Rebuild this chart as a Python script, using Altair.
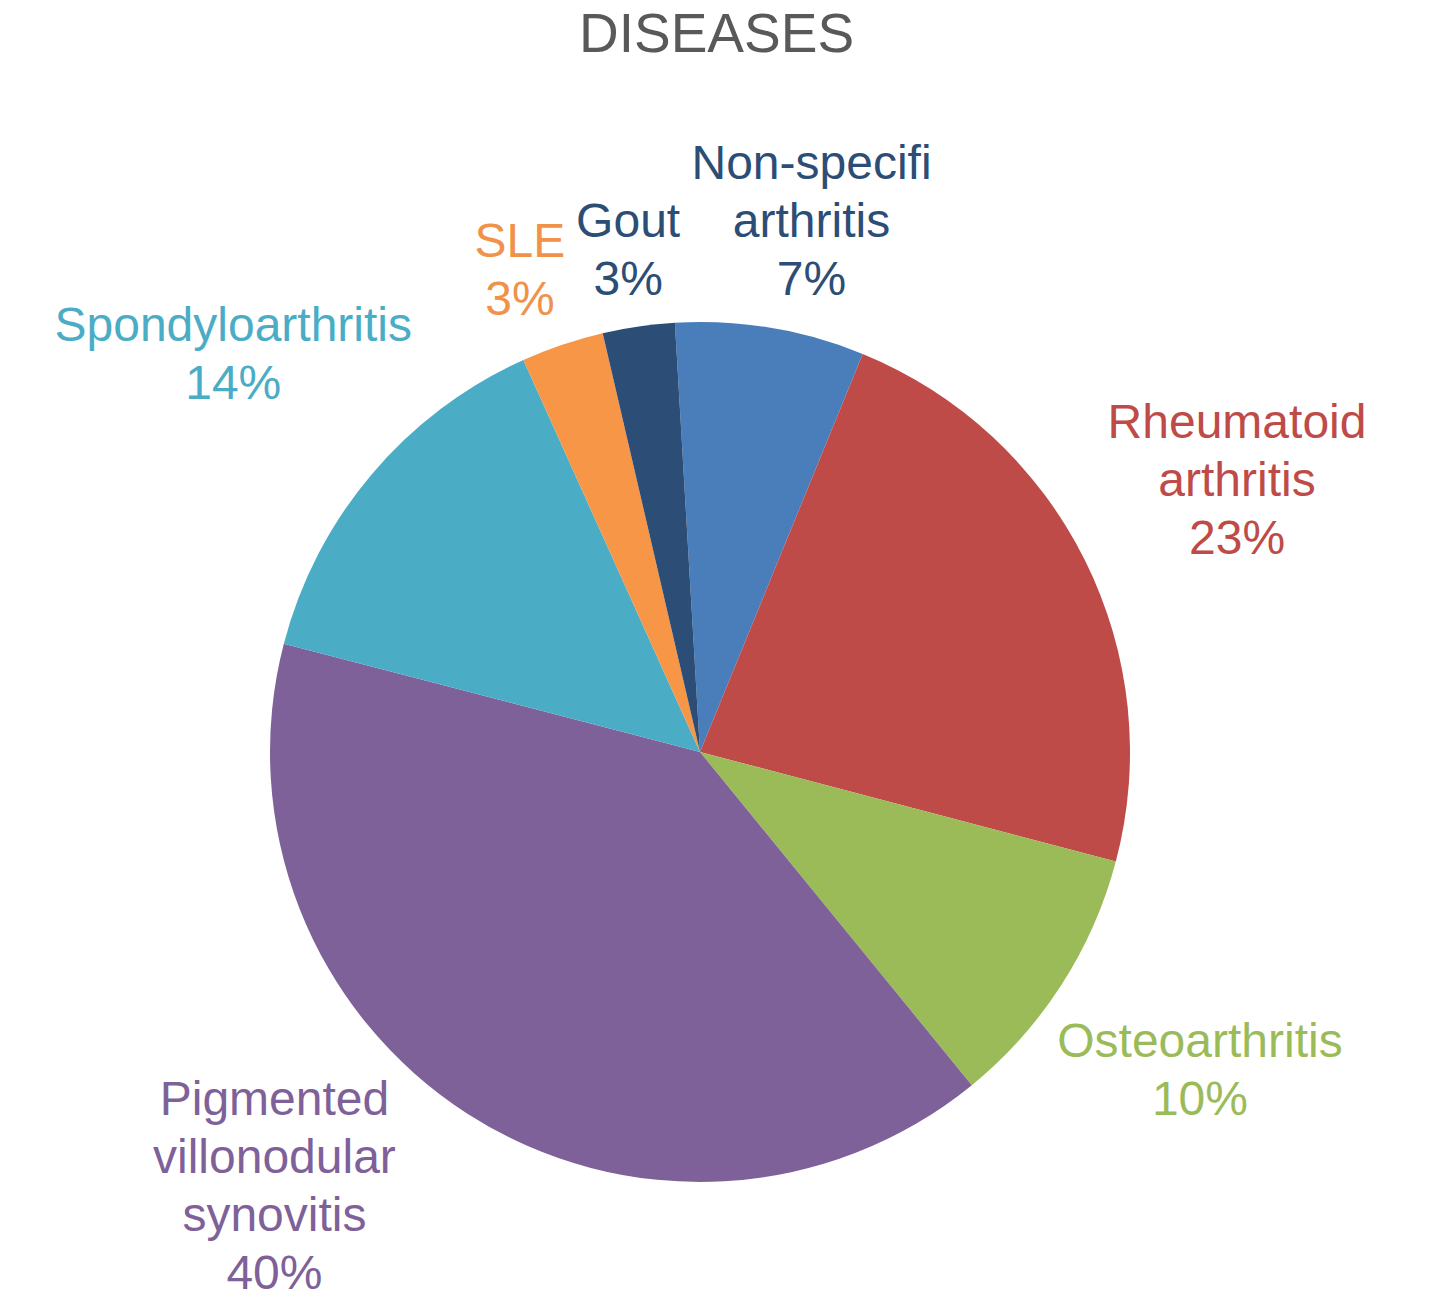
import math
import altair as alt
import pandas as pd

# ---------------- data ----------------
categories = ["Non-specifi arthritis", "Rheumatoid arthritis", "Osteoarthritis",
              "Pigmented villonodular synovitis", "Spondyloarthritis", "SLE", "Gout"]
label_names = ["Non-specifi\narthritis", "Rheumatoid\narthritis", "Osteoarthritis",
               "Pigmented\nvillonodular\nsynovitis", "Spondyloarthritis", "SLE", "Gout"]
shares = [7.1, 22.9, 10.0, 39.9, 14.2, 3.1, 2.7]
slice_colors = ["#4A7EBB", "#BE4B48", "#9BBB59", "#7F6199", "#4BACC6", "#F79646", "#2C4D75"]
label_colors = ["#2C4D75", "#BE4B48", "#9BBB59", "#7F6199", "#4BACC6", "#F0924A", "#2C4D75"]

# ---------------- layout constants ----------------
W, H = 1425, 1228          # plot area
CX, CY = 692, 688          # pie centre inside plot area
R = 430                    # pie radius
GAP = 20                   # min distance label block -> pie edge
FS, LH = 48, 58            # label font size / line height
START = math.radians(-3.35)
FONT = "Liberation Sans"

ARIAL = {" ": .278, "-": .333, "%": .889, "A": .667, "D": .722, "E": .667, "G": .778,
         "L": .556, "N": .722, "O": .778, "P": .667, "R": .722, "S": .667,
         "a": .556, "c": .5, "d": .556, "e": .556, "f": .278, "g": .556, "h": .556,
         "i": .222, "l": .222, "m": .833, "n": .556, "o": .556, "p": .556, "r": .333,
         "s": .5, "t": .278, "u": .556, "v": .5, "y": .5}


def text_w(s):
    return FS * sum(ARIAL.get(c, 0.556) for c in s)


total = sum(shares)
rows = []
cum = 0.0
for i, (cat, nm, v) in enumerate(zip(categories, label_names, shares)):
    a0 = START + 2 * math.pi * cum / total
    cum += v
    a1 = START + 2 * math.pi * cum / total
    lab = f"{nm}\n{round(v / total * 100)}%"
    rows.append(dict(cat=cat, value=v, order=i, lab=lab, mid=(a0 + a1) / 2))


def clear_radius(th, hw, hh):
    ux, uy = math.sin(th), -math.cos(th)
    lo, hi = 0.0, 2500.0
    for _ in range(60):
        m = (lo + hi) / 2
        nx = max(abs(m * ux) - hw, 0)
        ny = max(abs(m * uy) - hh, 0)
        if math.hypot(nx, ny) >= R + GAP:
            hi = m
        else:
            lo = m
    return hi


placed = []
for row in sorted(rows, key=lambda r: r["value"]):
    lines = row["lab"].split("\n")
    hw = max(text_w(l) for l in lines) / 2
    hh = ((len(lines) - 1) * LH + 0.8 * FS) / 2
    chosen = None
    for k in range(0, 181):
        for sgn in ((1,) if k == 0 else (1, -1)):
            th = row["mid"] + sgn * math.radians(0.5 * k)
            r = clear_radius(th, hw, hh)
            x = CX + r * math.sin(th)
            y = CY - r * math.cos(th)
            box = (x - hw, y - hh, x + hw, y + hh)
            if box[0] < 0 or box[2] > W or box[1] < -50 or box[3] > H + 6:
                continue
            if any(not (box[2] + 8 < b[0] or b[2] + 8 < box[0] or box[3] + 8 < b[1] or b[3] + 8 < box[1])
                   for b in placed):
                continue
            chosen = (x, y, box)
            break
        if chosen:
            break
    if chosen is None:
        th = row["mid"]
        r = clear_radius(th, hw, hh)
        chosen = (CX + r * math.sin(th), CY - r * math.cos(th), None)
    bx, by, box = chosen
    if box:
        placed.append(box)
    # vega draws the first line at the anchor: shift anchor so the block is centred
    ax, ay = bx, by - (len(lines) - 1) * LH / 2 - 2
    row["lt"] = math.atan2(ax - CX, -(ay - CY))
    row["lr"] = math.hypot(ax - CX, ay - CY)

df = pd.DataFrame(rows)

base = alt.Chart(df)

pie = base.mark_arc(radius=R, stroke=None).encode(
    x=alt.value(CX),
    y=alt.value(CY),
    theta=alt.Theta("value:Q", stack=True,
                    scale=alt.Scale(range=[START, START + 2 * math.pi])),
    order=alt.Order("order:Q"),
    color=alt.Color("cat:N", scale=alt.Scale(domain=categories, range=slice_colors), legend=None),
)

labels = base.mark_text(font=FONT, fontSize=FS, lineBreak="\n", lineHeight=LH,
                        align="center", baseline="middle").encode(
    x=alt.value(CX),
    y=alt.value(CY),
    theta=alt.Theta("lt:Q", scale=None, stack=None),
    radius=alt.Radius("lr:Q", scale=None),
    text="lab:N",
    color=alt.Color("cat:N", scale=alt.Scale(domain=categories, range=label_colors), legend=None),
)

chart = alt.layer(pie, labels).resolve_scale(
    color="independent", theta="independent", radius="independent"
).properties(
    width=W, height=H, padding=0,
    title=alt.TitleParams("DISEASES", font=FONT, fontSize=55, fontWeight="normal",
                          color="#595959", anchor="middle", offset=0, dx=-4),
).configure(background="white", view=alt.ViewConfig(stroke=None))

chart.save("out.html", embed_options={"renderer": "svg", "actions": False})
